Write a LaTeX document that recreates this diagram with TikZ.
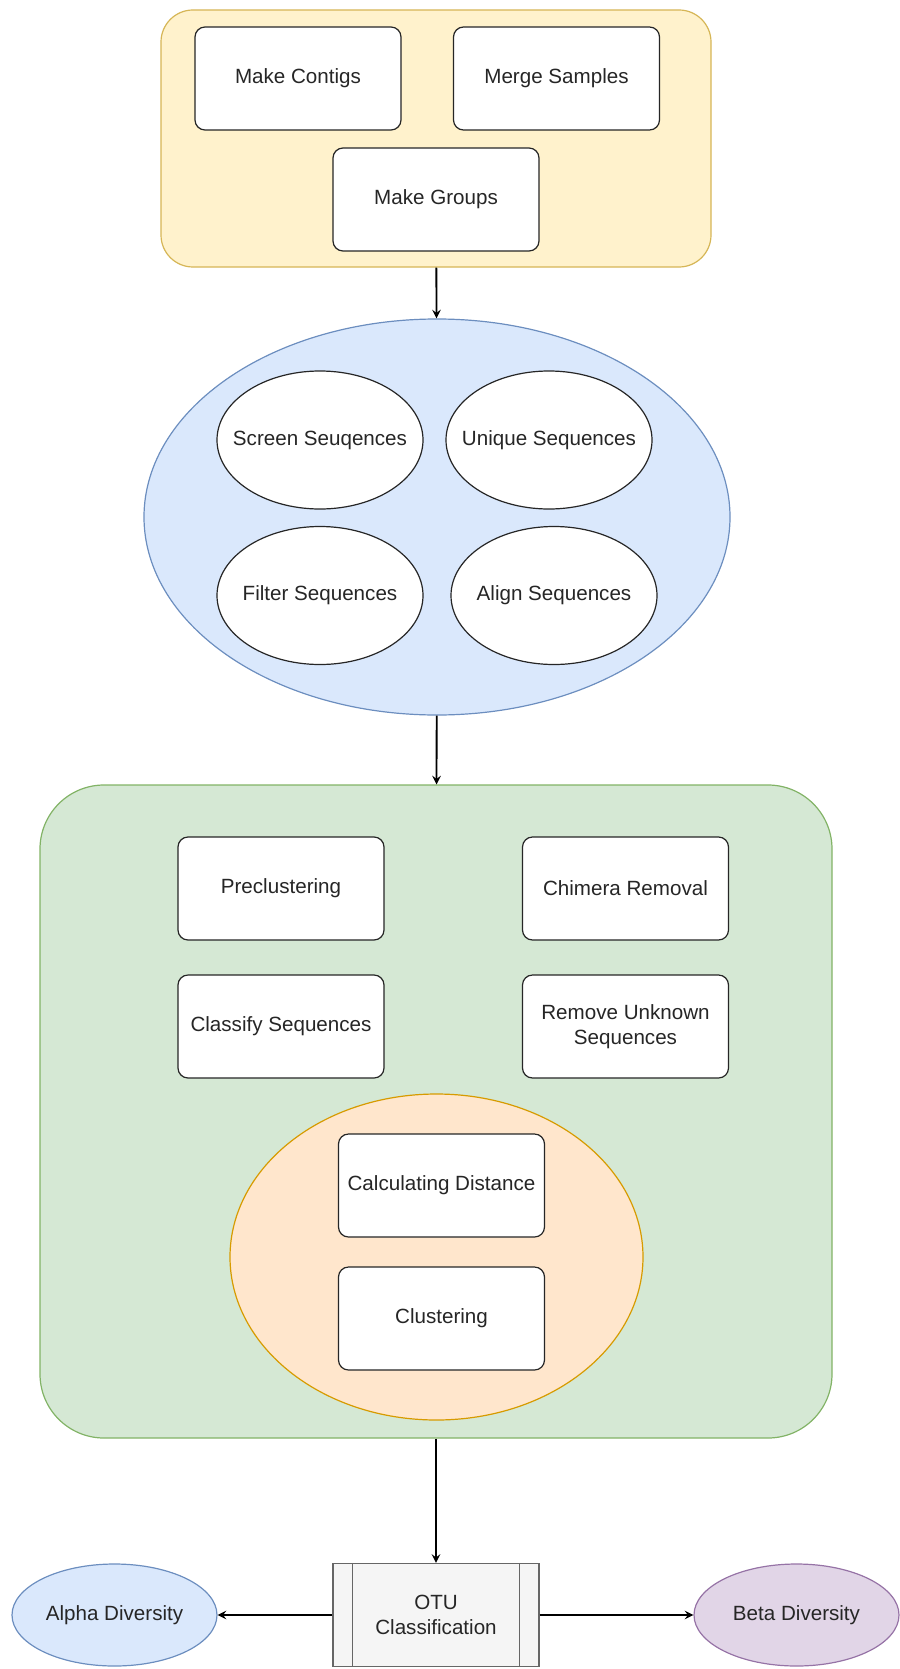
\documentclass[tikz,border=0pt]{standalone}
\usepackage{fontspec}
\setmainfont{Liberation Sans}
\usetikzlibrary{shapes.geometric,arrows,positioning}
\definecolor{yellowfill}{HTML}{FFF2CC}
\definecolor{yellowline}{HTML}{D6B656}
\definecolor{bluefill}{HTML}{DAE8FC}
\definecolor{blueline}{HTML}{6C8EBF}
\definecolor{greenfill}{HTML}{D5E8D4}
\definecolor{greenline}{HTML}{82B366}
\definecolor{orangefill}{HTML}{FFE6CC}
\definecolor{orangeline}{HTML}{D79B00}
\definecolor{purplefill}{HTML}{E1D5E7}
\definecolor{purpleline}{HTML}{9673A6}
\definecolor{grayfill}{HTML}{F5F5F5}
\definecolor{grayline}{HTML}{666666}
\tikzstyle{process} = [rectangle, rounded corners=5pt, minimum width=103pt, minimum height=51.5pt, text centered, align=center, draw=black!85, fill=white, line width=0.6pt]
\tikzstyle{oval} = [ellipse, minimum width=103pt, minimum height=69pt, inner xsep=-12pt, inner ysep=0pt, text centered, draw=black!85, fill=white, line width=0.6pt]
\tikzstyle{group} = [rectangle, line width=0.6pt]
\tikzstyle{arrow} = [line width=0.9pt,->,>=stealth]

\begin{document}
\begin{tikzpicture}[x=0.5pt, y=0.5pt, font=\fontsize{10.3}{12.5}\selectfont, text=black!85]
\useasboundingbox (0,0) rectangle (899,-1669);

% containers
\node (prep) [group, rounded corners=16pt, draw=yellowline, fill=yellowfill, minimum width=275pt, minimum height=128.5pt] at (436,-138.5) {};
\node (seqs) [ellipse, line width=0.6pt, draw=blueline, fill=bluefill, minimum width=293pt, minimum height=198pt] at (437,-517) {};
\node (otuprep) [group, rounded corners=32pt, draw=greenline, fill=greenfill, minimum width=396pt, minimum height=326.5pt] at (436,-1111.5) {};
\node (dist) [ellipse, line width=0.6pt, draw=orangeline, fill=orangefill, minimum width=206.5pt, minimum height=163pt] at (436.5,-1257) {};

% first step
\node (contigs) [process] at (298,-78.5) {Make Contigs};
\node (merge) [process] at (556.5,-78.5) {Merge Samples};
\node (groups) [process] at (436,-199.5) {Make Groups};

% sequence cleaning
\node (screen) [oval] at (320,-440) {Screen Seuqences};
\node (unique) [oval] at (549,-440) {Unique Sequences};
\node (filter) [oval] at (320,-595.5) {Filter Sequences};
\node (align) [oval] at (554,-595.5) {Align Sequences};

% OTU steps
\node (precluster) [process] at (281,-888.5) {Preclustering};
\node (chimera) [process] at (625.5,-888.5) {Chimera Removal};
\node (classify) [process] at (281,-1026.5) {Classify Sequences};
\node (unknown) [process] at (625.5,-1026.5) {Remove Unknown\\Sequences};
\node (calcdist) [process] at (441.5,-1185.5) {Calculating Distance};
\node (cluster) [process] at (441.5,-1318.5) {Clustering};

% output
\node (otu) [process, rounded corners=0pt, draw=grayline, fill=grayfill] at (436,-1615) {OTU\\Classification};
\draw [grayline, line width=0.6pt] ([xshift=10pt]otu.north west) -- ([xshift=10pt]otu.south west);
\draw [grayline, line width=0.6pt] ([xshift=-10pt]otu.north east) -- ([xshift=-10pt]otu.south east);
\node (alpha) [oval, draw=blueline, fill=bluefill, minimum width=102.5pt, minimum height=51pt] at (114.5,-1615) {Alpha Diversity};
\node (beta) [oval, draw=purpleline, fill=purplefill, minimum width=102.5pt, minimum height=51pt] at (796.5,-1615) {Beta Diversity};

\draw [arrow] (prep) -- (seqs);
\draw [arrow] (seqs) -- (otuprep);
\draw [arrow] (otuprep) -- (otu);
\draw [arrow] (otu) -- (alpha);
\draw [arrow] (otu) -- (beta);
\end{tikzpicture}
\end{document}
